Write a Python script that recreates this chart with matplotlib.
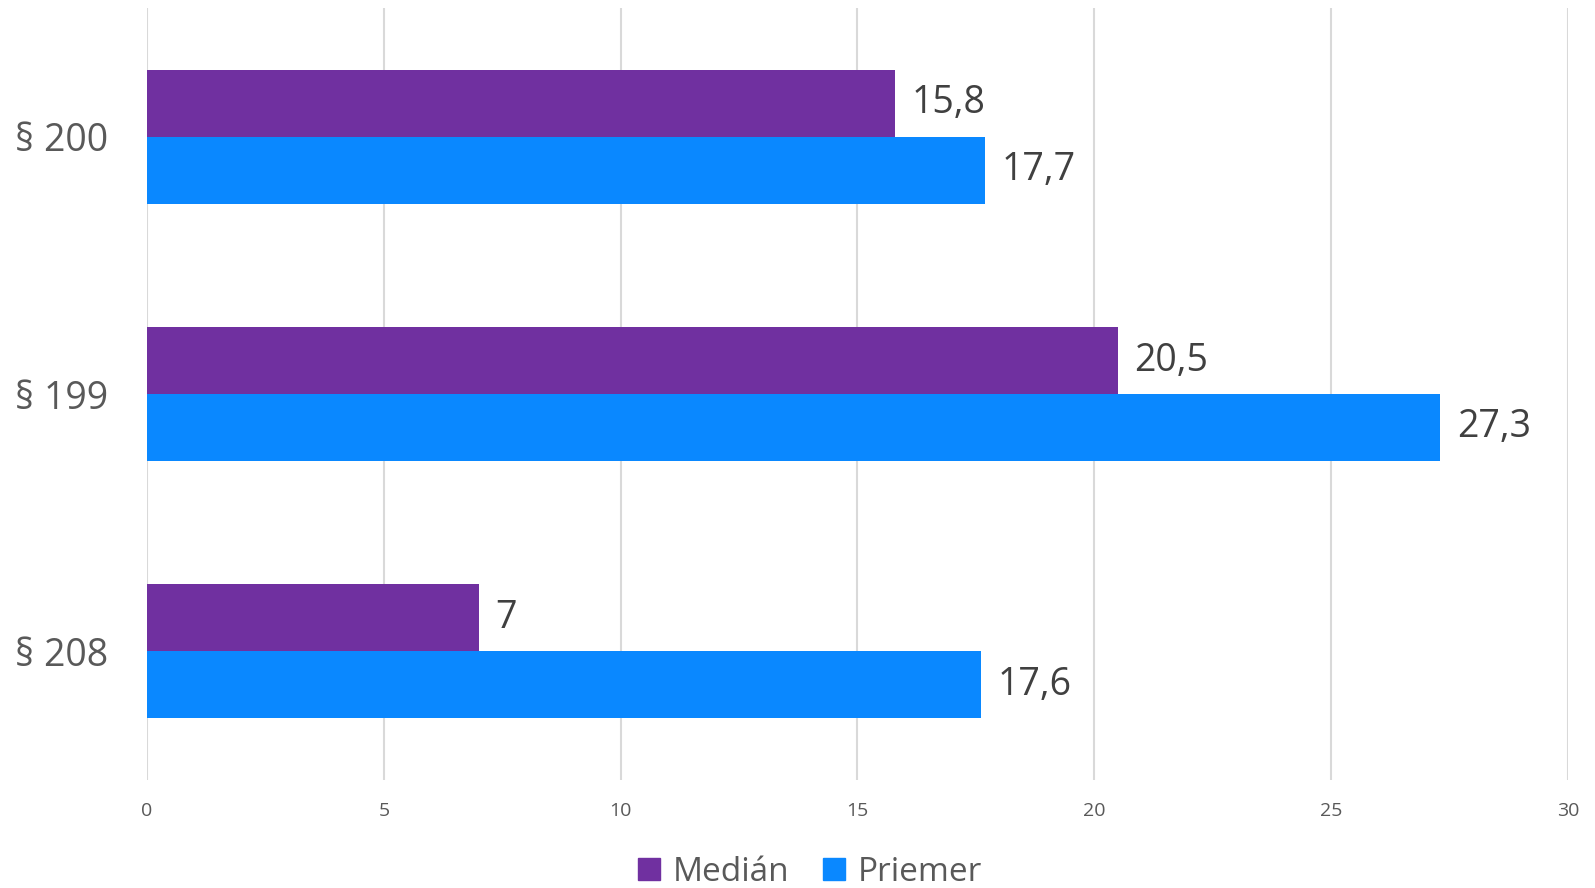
import matplotlib.pyplot as plt
import numpy as np
from matplotlib.patches import Patch

plt.rcParams['font.family'] = ['Open Sans', 'DejaVu Sans']

categories = ["§ 200", "§ 199", "§ 208"]
median = [15.8, 20.5, 7]
priemer = [17.7, 27.3, 17.6]
series_names = ["Medián", "Priemer"]
colors = ["#7030A0", "#0A88FF"]

fig = plt.figure(figsize=(15.95, 8.88), dpi=100)
ax = fig.add_axes([0.0922, 0.1216, 0.8908, 0.8694])

y = np.arange(len(categories))
h = 0.26
b1 = ax.barh(y - h / 2, median, height=h, color=colors[0])
b2 = ax.barh(y + h / 2, priemer, height=h, color=colors[1])

# value labels with a decimal comma
for bars, vals in ((b1, median), (b2, priemer)):
    labels = [f"{v:g}".replace(".", ",") for v in vals]
    ax.bar_label(bars, labels=labels, padding=12, fontsize=27, color="#404040")

ax.set_xlim(0, 30)
ax.set_ylim(len(categories) - 0.5, -0.5)
ax.set_xticks(range(0, 31, 5))
ax.set_yticks(y)
ax.set_yticklabels(categories)
ax.tick_params(axis='y', length=0, pad=28, labelsize=27, labelcolor="#595959")
ax.tick_params(axis='x', length=0, pad=16, labelsize=14, labelcolor="#595959")
ax.grid(axis='x', color="#D9D9D9", linewidth=1.5)
ax.set_axisbelow(True)
for s in ax.spines.values():
    s.set_visible(False)

handles = [Patch(color=c) for c in colors]
leg = fig.legend(handles, series_names, loc='center', ncol=2, frameon=False,
                 fontsize=24, handlelength=0.65, handleheight=0.65, handletextpad=0.4,
                 columnspacing=1.0, bbox_to_anchor=(0.508, 0.018))
for t in leg.get_texts():
    t.set_color("#595959")

fig.savefig("out.png", dpi=100)
